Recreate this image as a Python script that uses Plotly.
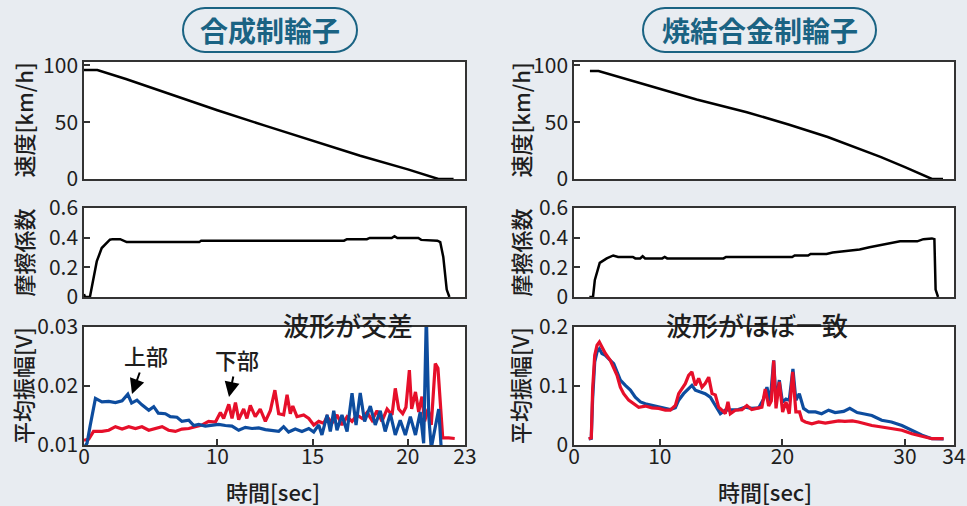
import plotly.graph_objects as go

# ---------------- data ----------------
# left column: synthetic-resin brake shoe (合成制輪子)
L_speed_t = [3.0, 3.7, 5.2, 7.5, 10.0, 12.5, 15.0, 17.5, 20.0, 21.6, 22.4]
L_speed_v = [96, 96, 88, 74.5, 60.5, 47, 33.5, 20.5, 8.5, 0, 0]

L_mu_t = [3.0, 3.05, 3.31, 3.49, 3.67, 3.93, 4.36, 4.5, 4.9, 5.24, 9.05, 9.15, 16.65, 16.8,
          17.85, 18.0, 19.15, 19.3, 19.45, 20.55, 20.7, 21.55, 21.7, 21.86, 22.04, 22.18]
L_mu_v = [0.02, 0.0, 0.0, 0.115, 0.24, 0.33, 0.386, 0.39, 0.39, 0.37, 0.37, 0.38, 0.38, 0.39,
          0.39, 0.398, 0.398, 0.41, 0.398, 0.398, 0.385, 0.38, 0.37, 0.27, 0.05, 0.0]

L_up_t = [3.0, 3.16, 3.33, 3.6, 3.94, 4.3, 4.65, 5.0, 5.3, 5.5, 5.78, 6.04, 6.4, 6.66, 6.9,
          7.27, 7.53, 7.88, 8.14, 8.5, 8.76, 9.02, 9.37, 9.72, 10.07, 10.42, 10.77, 11.12,
          11.47, 11.82, 12.17, 12.52, 12.87, 13.22, 13.48, 13.74, 14.09, 14.44, 14.8, 15.06,
          15.32, 15.49, 15.76, 15.93, 16.11, 16.28, 16.54, 16.81, 17.07, 17.28, 17.5, 17.73,
          18.03, 18.29, 18.55, 18.81, 19.08, 19.34, 19.6, 19.87, 20.13, 20.4, 20.65, 20.83,
          20.97, 21.1, 21.23, 21.44, 21.62, 21.76]
L_up_v = [0.0095, 0.0103, 0.0134, 0.0179, 0.0173, 0.0174, 0.0172, 0.0175, 0.0186, 0.0171,
          0.0176, 0.0168, 0.0159, 0.0165, 0.0154, 0.0153, 0.0148, 0.0147, 0.0140, 0.0142,
          0.0133, 0.0135, 0.0132, 0.0134, 0.0135, 0.0133, 0.0132, 0.0125, 0.0130, 0.0128,
          0.0129, 0.0126, 0.0124, 0.0123, 0.0131, 0.0122, 0.0127, 0.0123, 0.0128, 0.0122,
          0.0134, 0.0117, 0.0151, 0.0123, 0.0158, 0.0125, 0.0151, 0.0123, 0.0188, 0.0134,
          0.0188, 0.0140, 0.0166, 0.0134, 0.0158, 0.0123, 0.0153, 0.0117, 0.0142, 0.0117,
          0.0148, 0.0117, 0.0156, 0.0103, 0.0320, 0.0147, 0.0095, 0.0134, 0.0161, 0.0090]

L_lo_t = [3.0, 3.25, 3.5, 3.94, 4.3, 4.65, 5.0, 5.35, 5.7, 6.04, 6.4, 6.74, 7.1, 7.44, 7.8,
          8.14, 8.5, 8.84, 9.2, 9.54, 9.9, 10.16, 10.33, 10.6, 10.77, 10.95, 11.12, 11.38,
          11.55, 11.73, 11.99, 12.25, 12.52, 12.78, 13.02, 13.22, 13.48, 13.66, 13.83, 13.96,
          14.18, 14.53, 14.8, 15.06, 15.32, 15.58, 15.76, 16.02, 16.28, 16.54, 16.81, 17.07,
          17.33, 17.6, 17.86, 18.12, 18.38, 18.64, 18.91, 19.17, 19.34, 19.52, 19.73, 19.9,
          20.08, 20.2, 20.4, 20.57, 20.74, 20.88, 21.06, 21.23, 21.44, 21.58, 21.7, 21.83,
          22.14, 22.46]
L_lo_v = [0.0108, 0.0110, 0.0123, 0.0123, 0.0125, 0.0131, 0.0127, 0.0131, 0.0128, 0.0131,
          0.0125, 0.0128, 0.0131, 0.0125, 0.0123, 0.0127, 0.0128, 0.0131, 0.0134, 0.0140,
          0.0139, 0.0155, 0.0145, 0.0169, 0.0145, 0.0172, 0.0143, 0.0161, 0.0145, 0.0167,
          0.0148, 0.0161, 0.0140, 0.0158, 0.0193, 0.0153, 0.0151, 0.0185, 0.0153, 0.0166,
          0.0148, 0.0151, 0.0145, 0.0134, 0.0140, 0.0137, 0.0148, 0.0137, 0.0151, 0.0134,
          0.0148, 0.0140, 0.0151, 0.0145, 0.0155, 0.0142, 0.0158, 0.0140, 0.0161, 0.0151,
          0.0196, 0.0161, 0.0153, 0.0164, 0.0227, 0.0161, 0.0190, 0.0156, 0.0182, 0.0140,
          0.0161, 0.0134, 0.0238, 0.0230, 0.0172, 0.0112, 0.0112, 0.0111]

# right column: sintered-alloy brake shoe (焼結合金制輪子)
R_speed_t = [4.3, 5.0, 9.0, 13.0, 17.1, 20.5, 23.7, 26.0, 28.0, 30.0, 32.2, 33.1]
R_speed_v = [95, 95, 82.5, 70, 58.8, 48, 37, 28, 19.5, 10.5, 0, 0]

R_mu_t = [4.25, 4.55, 4.7, 5.1, 5.67, 6.2, 6.6, 7.8, 8.0, 8.4, 8.6, 8.8, 10.2, 10.4, 10.6,
          15.2, 15.4, 20.8, 21.0, 22.1, 22.3, 23.6, 24.1, 25.3, 26.3, 27.1, 28.0, 28.8, 29.6,
          31.0, 31.5, 32.2, 32.4, 32.5, 32.7]
R_mu_v = [0.0, 0.0, 0.115, 0.23, 0.26, 0.28, 0.27, 0.27, 0.26, 0.26, 0.275, 0.26, 0.26, 0.27,
          0.26, 0.26, 0.27, 0.27, 0.28, 0.28, 0.29, 0.29, 0.30, 0.31, 0.32, 0.335, 0.35, 0.365,
          0.375, 0.375, 0.39, 0.395, 0.39, 0.05, 0.0]

R_up_t = [4.2, 4.41, 4.52, 4.69, 4.88, 5.07, 5.28, 5.56, 5.96, 6.24, 6.51, 6.78, 7.19, 7.6,
          8.0, 8.42, 8.82, 9.36, 9.91, 10.45, 10.86, 11.27, 11.54, 11.94, 12.35, 12.62, 12.9,
          13.3, 13.7, 14.12, 14.53, 14.94, 15.34, 15.89, 16.4, 16.97, 17.5, 18.07, 18.47,
          18.74, 19.0, 19.29, 19.48, 19.75, 20.0, 20.29, 20.56, 20.86, 21.1, 21.38, 21.73,
          22.15, 22.7, 23.2, 23.77, 24.3, 25.0, 25.5, 26.1, 26.6, 27.3, 28.1, 28.9, 29.75,
          30.57, 31.4, 32.2, 33.15]
R_up_v = [0.0102, 0.011, 0.078, 0.141, 0.158, 0.163, 0.155, 0.152, 0.1435, 0.138, 0.124,
          0.110, 0.101, 0.093, 0.081, 0.073, 0.070, 0.067, 0.064, 0.062, 0.060, 0.063, 0.076,
          0.087, 0.095, 0.101, 0.093, 0.090, 0.087, 0.081, 0.067, 0.053, 0.059, 0.059, 0.060,
          0.064, 0.062, 0.063, 0.078, 0.098, 0.073, 0.1435, 0.073, 0.110, 0.073, 0.078, 0.076,
          0.129, 0.076, 0.087, 0.062, 0.056, 0.056, 0.053, 0.059, 0.055, 0.057, 0.062, 0.055,
          0.053, 0.050, 0.042, 0.039, 0.033, 0.025, 0.0167, 0.0107, 0.0102]

R_lo_t = [4.2, 4.41, 4.52, 4.69, 4.88, 5.07, 5.28, 5.56, 5.96, 6.24, 6.51, 6.78, 7.05, 7.46,
          7.87, 8.28, 8.82, 9.36, 9.91, 10.45, 10.86, 11.27, 11.54, 11.8, 12.08, 12.35, 12.62,
          12.9, 13.17, 13.44, 13.7, 13.99, 14.26, 14.53, 14.8, 15.07, 15.34, 15.56, 15.75,
          16.16, 16.7, 17.1, 17.5, 18.07, 18.33, 18.6, 18.88, 19.1, 19.29, 19.48, 19.75, 20.02,
          20.29, 20.56, 20.84, 21.1, 21.4, 21.6, 21.87, 22.4, 22.96, 23.5, 24.04, 24.59, 25.1,
          25.7, 26.2, 26.76, 27.3, 28.1, 28.9, 29.75, 30.57, 31.4, 32.2, 33.15]
R_lo_v = [0.0107, 0.012, 0.095, 0.152, 0.169, 0.1746, 0.166, 0.155, 0.1435, 0.132, 0.118,
          0.098, 0.087, 0.076, 0.070, 0.064, 0.066, 0.063, 0.062, 0.059, 0.059, 0.067, 0.087,
          0.095, 0.104, 0.118, 0.124, 0.101, 0.113, 0.098, 0.104, 0.115, 0.087, 0.085, 0.064,
          0.059, 0.053, 0.073, 0.053, 0.059, 0.060, 0.067, 0.060, 0.063, 0.064, 0.095, 0.066,
          0.075, 0.143, 0.062, 0.107, 0.056, 0.073, 0.053, 0.124, 0.056, 0.056, 0.042, 0.039,
          0.036, 0.039, 0.037, 0.039, 0.041, 0.040, 0.041, 0.039, 0.036, 0.033, 0.0305,
          0.0277, 0.025, 0.019, 0.0153, 0.0107, 0.0107]

# tick values / labels
L_xtickvals = [3, 10, 15, 20, 23]
L_xticktext = ["0", "10", "15", "20", "23"]
R_xtickvals = [3, 10, 20, 30, 34]
R_xticktext = ["0", "10", "20", "30", "34"]
speed_ticks = [0, 50, 100]
mu_ticks = [0, 0.2, 0.4, 0.6]
mu_ticktext = ["0", "0.2", "0.4", "0.6"]
L_amp_ticks = [0.01, 0.02, 0.03]
L_amp_ticktext = ["0.01", "0.02", "0.03"]
R_amp_ticks = [0, 0.1, 0.2]
R_amp_ticktext = ["0", "0.1", "0.2"]

titles = ["合成制輪子", "焼結合金制輪子"]
ytitles = ["速度[km/h]", "摩擦係数", "平均振幅[V]"]
xtitle = "時間[sec]"
notes = ["波形が交差", "波形がほぼ一致"]
labels = ["上部", "下部"]

# ---------------- layout helpers ----------------
W, H = 967, 506
FONT = "Noto Sans CJK JP"
BG = "#e8ecf1"
BLUE = "#0d4c9e"
RED = "#e60f2a"
AX = "#333333"
TEAL = "#1a6383"
TXT = "#1e1e1e"


def fx(px):
    return px / W


def fy(py):
    return 1 - py / H


col_px = [(84, 465), (574, 954)]
row_px = [(62, 179), (208, 297), (327, 445)]

fig = go.Figure()

blk = dict(color="black", width=2.5)
fig.add_trace(go.Scatter(x=L_speed_t, y=L_speed_v, mode="lines", line=blk, xaxis="x", yaxis="y"))
fig.add_trace(go.Scatter(x=R_speed_t, y=R_speed_v, mode="lines", line=blk, xaxis="x2", yaxis="y2"))
fig.add_trace(go.Scatter(x=L_mu_t, y=L_mu_v, mode="lines", line=blk, xaxis="x3", yaxis="y3"))
fig.add_trace(go.Scatter(x=R_mu_t, y=R_mu_v, mode="lines", line=blk, xaxis="x4", yaxis="y4"))
fig.add_trace(go.Scatter(x=L_lo_t, y=L_lo_v, mode="lines", line=dict(color=RED, width=3.2),
                         xaxis="x5", yaxis="y5"))
fig.add_trace(go.Scatter(x=L_up_t, y=L_up_v, mode="lines", line=dict(color=BLUE, width=3.2),
                         xaxis="x5", yaxis="y5"))
fig.add_trace(go.Scatter(x=R_up_t, y=R_up_v, mode="lines", line=dict(color=BLUE, width=3.2),
                         xaxis="x6", yaxis="y6"))
fig.add_trace(go.Scatter(x=R_lo_t, y=R_lo_v, mode="lines", line=dict(color=RED, width=3.2),
                         xaxis="x6", yaxis="y6"))

tickfont = dict(family=FONT, size=21, color=TXT)
base = dict(showline=True, mirror=True, linecolor=AX, linewidth=1.5, showgrid=False,
            zeroline=False, ticks="inside", ticklen=6, tickwidth=1.5, tickcolor=AX,
            tickfont=tickfont, automargin=False)

layout = dict(width=W, height=H, autosize=False, paper_bgcolor=BG, plot_bgcolor="white",
              margin=dict(l=0, r=0, t=0, b=0, pad=0), showlegend=False)

xranges = [[3, 23], [3, 34]]
yspecs = [
    (dict(range=[0, 103], tickvals=speed_ticks), dict(range=[0, 103], tickvals=speed_ticks)),
    (dict(range=[0, 0.6], tickvals=mu_ticks, ticktext=mu_ticktext),
     dict(range=[0, 0.6], tickvals=mu_ticks, ticktext=mu_ticktext)),
    (dict(range=[0.01, 0.03], tickvals=L_amp_ticks, ticktext=L_amp_ticktext),
     dict(range=[0, 0.2], tickvals=R_amp_ticks, ticktext=R_amp_ticktext)),
]
for r in range(3):
    for c in range(2):
        i = r * 2 + c + 1
        sfx = "" if i == 1 else str(i)
        xa = dict(base, domain=[fx(col_px[c][0]), fx(col_px[c][1])], range=xranges[c],
                  anchor="y" + sfx)
        if r < 2:
            xa.update(ticks="", showticklabels=False)
        else:
            xa.update(tickvals=L_xtickvals if c == 0 else R_xtickvals,
                      ticktext=L_xticktext if c == 0 else R_xticktext,
                      ticklabelstandoff=-8)
        ya = dict(base, domain=[fy(row_px[r][1]), fy(row_px[r][0])], anchor="x" + sfx)
        ya.update(yspecs[r][c])
        layout["xaxis" + sfx] = xa
        layout["yaxis" + sfx] = ya

fig.update_layout(**layout)

# ---------------- titles in rounded "pills" ----------------
def pill(x0, y0, x1, y1):
    r = (y1 - y0) / 2
    k = 0.5523 * r
    pts = [
        f"M {fx(x0 + r)} {fy(y0)}",
        f"L {fx(x1 - r)} {fy(y0)}",
        f"C {fx(x1 - r + k)} {fy(y0)} {fx(x1)} {fy(y0 + r - k)} {fx(x1)} {fy(y0 + r)}",
        f"C {fx(x1)} {fy(y0 + r + k)} {fx(x1 - r + k)} {fy(y1)} {fx(x1 - r)} {fy(y1)}",
        f"L {fx(x0 + r)} {fy(y1)}",
        f"C {fx(x0 + r - k)} {fy(y1)} {fx(x0)} {fy(y1 - r + k)} {fx(x0)} {fy(y1 - r)}",
        f"C {fx(x0)} {fy(y0 + r - k)} {fx(x0 + r - k)} {fy(y0)} {fx(x0 + r)} {fy(y0)}",
        "Z",
    ]
    return " ".join(pts)


pills = [(183, 8, 357, 52), (643, 8, 876, 52)]
for (x0, y0, x1, y1), t in zip(pills, titles):
    fig.add_shape(type="path", path=pill(x0, y0, x1, y1), xref="paper", yref="paper",
                  line=dict(color=TEAL, width=2), fillcolor="rgba(0,0,0,0)")
    fig.add_annotation(x=fx((x0 + x1) / 2), y=fy((y0 + y1) / 2), xref="paper", yref="paper",
                       text=f"<b>{t}</b>", showarrow=False, xanchor="center", yanchor="middle",
                       font=dict(family=FONT, size=28, color=TEAL))

# y-axis titles (vertical)
ytitle_x = [22, 519]
for c in range(2):
    for r in range(3):
        fig.add_annotation(x=fx(ytitle_x[c]), y=fy((row_px[r][0] + row_px[r][1]) / 2),
                           xref="paper", yref="paper", text=ytitles[r], textangle=-90,
                           showarrow=False, xanchor="center", yanchor="middle",
                           font=dict(family=FONT, size=22, color=TXT, weight=500))
# x-axis titles
for cx in (273, 765):
    fig.add_annotation(x=fx(cx), y=fy(491), xref="paper", yref="paper", text=xtitle,
                       showarrow=False, xanchor="center", yanchor="middle",
                       font=dict(family=FONT, size=22, color=TXT, weight=500))

# in-plot notes
note_font = dict(family=FONT, size=26, color=TXT, weight=500)
fig.add_annotation(x=fx(348), y=fy(345), xref="paper", yref="paper", text=notes[0],
                   showarrow=False, font=note_font)
fig.add_annotation(x=fx(850), y=fy(345), xref="paper", yref="paper", text=notes[1],
                   showarrow=False, font=note_font)

lbl_font = dict(family=FONT, size=22, color=TXT, weight=500)
fig.add_annotation(x=fx(132), y=fy(394), xref="paper", yref="paper", text=labels[0],
                   showarrow=True, ax=14, ay=-39, arrowhead=2, arrowsize=1.5, arrowwidth=2,
                   arrowcolor="black", font=lbl_font)
fig.add_annotation(x=fx(229), y=fy(397), xref="paper", yref="paper", text=labels[1],
                   showarrow=True, ax=8, ay=-38, arrowhead=2, arrowsize=1.5, arrowwidth=2,
                   arrowcolor="black", font=lbl_font)

fig.write_html("out.html", config={"responsive": False, "displayModeBar": False},
               post_script="document.body.style.margin='0';"
                           "document.body.style.overflow='hidden';")
